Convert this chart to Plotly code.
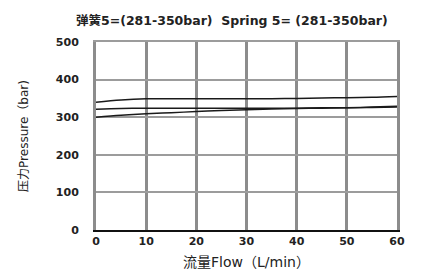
import plotly.graph_objects as go

flow = [0, 5, 10, 15, 20, 25, 30, 35, 40, 45, 50, 55, 60]
upper = [340, 346, 349, 349, 349, 349, 349, 349, 350, 351, 352, 353, 355]
middle = [321, 323, 324, 324, 324, 324, 324, 324, 324, 325, 325, 326, 327]
lower = [300, 305, 309, 312, 315, 318, 320, 322, 323, 324, 325, 327, 329]

x_ticks = [0, 10, 20, 30, 40, 50, 60]
y_ticks = [0, 100, 200, 300, 400, 500]

title_text = "弹簧5=(281-350bar)  Spring 5= (281-350bar)"
x_title = "流量Flow（L/min）"
y_title = "压力Pressure（bar)"

FONT = "DejaVu Sans, Noto Sans CJK SC, sans-serif"

fig = go.Figure()
for ys in (upper, middle, lower):
    fig.add_trace(go.Scatter(x=flow, y=ys, mode="lines",
                             line=dict(color="#1a1a1a", width=1.5, shape="spline"),
                             showlegend=False, hoverinfo="skip"))

fig.update_layout(
    width=440, height=275,
    margin=dict(l=96, r=43, t=42, b=45, autoexpand=False),
    paper_bgcolor="white", plot_bgcolor="white",
    title=dict(text=title_text, x=0.527, xanchor="center", y=0.925, yanchor="middle",
               font=dict(family=FONT, size=12.5, color="#222", weight="bold")),
    xaxis=dict(range=[0, 60], tickvals=x_ticks, showgrid=False,
               zeroline=False, showline=True, linecolor="#111", linewidth=2,
               ticks="inside", ticklen=188, tickcolor="#8c8c8c", tickwidth=3,
               layer="below traces", automargin=False,
               tickfont=dict(family=FONT, size=11, color="#222", weight="bold"),
               title=dict(text=x_title, standoff=10,
                          font=dict(family=FONT, size=14, color="#222"))),
    xaxis2=dict(range=[0, 60], overlaying="x", side="top", matches="x",
                showgrid=False, zeroline=False, showticklabels=False, ticks="",
                showline=True, linecolor="#9c9c9c", linewidth=2,
                layer="below traces", automargin=False),
    yaxis=dict(range=[0, 500], tickvals=y_ticks, showgrid=False,
               zeroline=False, showline=True, linecolor="#8c8c8c", linewidth=3,
               mirror=True,
               ticks="inside", ticklen=301, tickcolor="#9c9c9c", tickwidth=2,
               ticklabelstandoff=12, layer="below traces", automargin=False,
               tickfont=dict(family=FONT, size=11, color="#222", weight="bold"),
               title=dict(text=y_title, standoff=25,
                          font=dict(family=FONT, size=12, color="#222"))),
)

# invisible trace to activate the top border axis
fig.add_trace(go.Scatter(x=[flow[0]], y=[upper[0]], xaxis="x2", mode="markers",
                         marker=dict(opacity=0), showlegend=False, hoverinfo="skip"))

fig.write_html("out.html")
